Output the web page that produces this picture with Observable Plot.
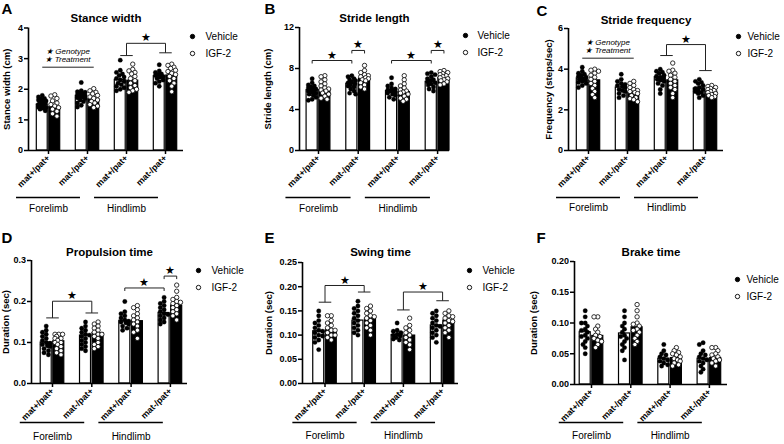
<!DOCTYPE html>
<html><head><meta charset="utf-8">
<script src="https://cdn.jsdelivr.net/npm/d3@7"></script>
<script src="https://cdn.jsdelivr.net/npm/@observablehq/plot@0.6"></script>
<style>
body{margin:0;background:#fff;}
#fig{position:relative;width:784px;height:444px;overflow:hidden;background:#fff;}
#fig svg{position:absolute;overflow:visible;}
</style></head><body><div id="fig"></div>
<script>
// ---------- data ----------
const groups = ["mat+/pat+", "mat-/pat+", "mat+/pat+", "mat-/pat+"];
const limbs = ["Forelimb", "Hindlimb"];
const treatments = ["Vehicle", "IGF-2"];

// A: Stance width (cm)
const stanceVehMean = [1.50, 1.78, 2.30, 2.42];
const stanceIgfMean = [1.42, 1.67, 2.28, 2.45];
const stanceVeh = [
  [1.80,1.75,1.70,1.68,1.65,1.62,1.60,1.58,1.55,1.52,1.50,1.48,1.45,1.42,1.40,1.38,1.35,1.30],
  [2.22,1.95,1.92,1.90,1.88,1.85,1.82,1.80,1.78,1.75,1.72,1.70,1.65,1.60,1.55,1.48,1.42],
  [2.95,2.62,2.55,2.50,2.45,2.40,2.35,2.30,2.25,2.20,2.15,2.10,2.05,2.00,1.95],
  [2.80,2.60,2.55,2.50,2.48,2.45,2.42,2.40,2.35,2.30,2.25,2.20,2.10]];
const stanceIgf = [
  [1.82,1.78,1.70,1.62,1.55,1.50,1.45,1.40,1.35,1.28,1.20,1.12],
  [2.02,1.95,1.90,1.85,1.80,1.75,1.70,1.65,1.60,1.55,1.50,1.45,1.40],
  [2.82,2.65,2.60,2.55,2.50,2.42,2.35,2.28,2.20,2.12,2.05,2.00,1.95,1.90],
  [2.82,2.78,2.72,2.68,2.62,2.58,2.52,2.48,2.42,2.35,2.28,2.20,2.10,1.92]];
const stanceTicks = [0, 1, 2, 3, 4];
const stanceSig = [{kind: "groups", a: 2, b: 3, top: 3.50, dropA: 3.10, dropB: 3.19}];
const stanceNote = {a: 0, b: 1, y: 2.72, lines: ["★ Genotype", "★ Treatment"]};

// B: Stride length (cm)
const strideVehMean = [5.9, 6.5, 5.8, 6.7];
const strideIgfMean = [5.9, 7.0, 5.7, 7.1];
const strideVeh = [
  [7.0,6.6,6.4,6.3,6.2,6.1,6.0,5.95,5.9,5.85,5.8,5.7,5.6,5.5,5.4,5.2,5.0,4.9],
  [7.3,7.2,7.0,6.9,6.8,6.7,6.6,6.5,6.4,6.3,6.2,6.0,5.8,5.6,5.5],
  [7.1,6.5,6.3,6.1,6.0,5.9,5.85,5.8,5.7,5.6,5.5,5.4,5.2,5.0],
  [7.6,7.5,7.4,7.2,7.0,6.9,6.8,6.7,6.6,6.5,6.4,6.2,6.0,5.8]];
const strideIgf = [
  [7.3,7.2,6.9,6.7,6.5,6.3,6.1,6.0,5.9,5.8,5.6,5.5,5.3,5.1,5.0],
  [8.3,7.8,7.6,7.4,7.3,7.2,7.1,7.0,6.9,6.8,6.6,6.4,6.2,6.0],
  [7.3,6.9,6.5,6.3,6.1,5.9,5.8,5.7,5.6,5.5,5.3,5.1,5.0,4.8],
  [7.8,7.7,7.6,7.5,7.4,7.3,7.2,7.1,7.0,6.9,6.8,6.7,6.5,6.4]];
const strideTicks = [0, 4, 8, 12];
const strideSig = [
  {kind: "bars", a: [0, 0], b: [1, 0], y: 8.78},
  {kind: "bars", a: [1, 0], b: [1, 1], y: 9.76},
  {kind: "bars", a: [2, 0], b: [3, 0], y: 8.78},
  {kind: "bars", a: [3, 0], b: [3, 1], y: 9.76}];

// C: Stride frequency (steps/sec)
const freqVehMean = [3.55, 3.10, 3.60, 3.05];
const freqIgfMean = [3.45, 2.85, 3.45, 2.90];
const freqVeh = [
  [4.1,3.9,3.8,3.75,3.7,3.65,3.6,3.55,3.5,3.45,3.4,3.35,3.3,3.2,3.1],
  [3.75,3.5,3.4,3.3,3.25,3.2,3.15,3.1,3.0,2.95,2.9,2.8,2.7,2.6],
  [4.0,3.9,3.85,3.8,3.7,3.65,3.6,3.55,3.5,3.45,3.4,3.3,3.2,3.0,2.8],
  [3.5,3.4,3.35,3.3,3.2,3.1,3.05,3.0,2.95,2.9,2.85,2.8,2.7,2.6]];
const freqIgf = [
  [4.0,3.95,3.9,3.8,3.7,3.6,3.5,3.4,3.3,3.2,3.05,2.9,2.75,2.6],
  [3.4,3.3,3.2,3.1,3.0,2.95,2.9,2.85,2.8,2.7,2.6,2.55,2.5,2.4],
  [4.3,3.95,3.9,3.8,3.7,3.6,3.5,3.4,3.3,3.2,3.1,3.0,2.8,2.6],
  [3.2,3.15,3.1,3.05,3.0,2.95,2.9,2.85,2.8,2.75,2.7,2.65,2.6]];
const freqTicks = [0, 2, 4, 6];
const freqSig = [{kind: "groups", a: 2, b: 3, top: 5.21, dropA: 4.67, dropB: 3.93}];
const freqNote = {a: 0, b: 1, y: 4.54, lines: ["★ Genotype", "★ Treatment"]};

// D: Propulsion time (sec)
const propVehMean = [0.100, 0.117, 0.153, 0.172];
const propIgfMean = [0.103, 0.123, 0.152, 0.190];
const propVeh = [
  [0.14,0.13,0.125,0.12,0.115,0.11,0.105,0.10,0.098,0.095,0.092,0.09,0.085,0.08,0.075,0.07],
  [0.15,0.14,0.135,0.13,0.125,0.12,0.118,0.115,0.11,0.105,0.10,0.095,0.09,0.085,0.08],
  [0.20,0.175,0.17,0.165,0.16,0.155,0.152,0.15,0.148,0.145,0.14,0.135,0.13],
  [0.21,0.20,0.195,0.19,0.185,0.18,0.175,0.17,0.168,0.165,0.16,0.155,0.15,0.145]];
const propIgf = [
  [0.12,0.12,0.12,0.115,0.11,0.11,0.105,0.10,0.10,0.095,0.09,0.085,0.08,0.075,0.07],
  [0.15,0.145,0.14,0.135,0.13,0.125,0.12,0.12,0.115,0.11,0.10,0.095,0.09,0.085],
  [0.19,0.185,0.18,0.17,0.165,0.16,0.155,0.15,0.145,0.14,0.13,0.125,0.11],
  [0.24,0.225,0.21,0.205,0.20,0.198,0.195,0.19,0.185,0.18,0.175,0.17,0.165,0.155]];
const propTicks = [0, 0.1, 0.2, 0.3];
const propSig = [
  {kind: "groups", a: 0, b: 1, top: 0.2007, dropA: 0.160, dropB: 0.172},
  {kind: "bars", a: [2, 0], b: [3, 0], y: 0.233},
  {kind: "bars", a: [3, 0], b: [3, 1], y: 0.262}];

// E: Swing time (sec)
const swingVehMean = [0.108, 0.130, 0.100, 0.120];
const swingIgfMean = [0.110, 0.134, 0.099, 0.130];
const swingVeh = [
  [0.15,0.14,0.13,0.125,0.12,0.115,0.11,0.108,0.105,0.10,0.098,0.095,0.09,0.085,0.07],
  [0.17,0.16,0.155,0.15,0.145,0.14,0.135,0.13,0.125,0.12,0.115,0.11,0.105,0.10],
  [0.125,0.11,0.108,0.105,0.102,0.10,0.098,0.095,0.092,0.09],
  [0.15,0.145,0.14,0.135,0.13,0.125,0.12,0.118,0.115,0.11,0.105,0.10,0.095,0.085]];
const swingIgf = [
  [0.14,0.14,0.13,0.125,0.12,0.115,0.11,0.11,0.105,0.10,0.10,0.095,0.09],
  [0.16,0.155,0.15,0.145,0.14,0.138,0.135,0.13,0.125,0.12,0.115,0.11,0.10],
  [0.135,0.12,0.115,0.11,0.105,0.10,0.095,0.09,0.085,0.08,0.07],
  [0.15,0.145,0.14,0.138,0.135,0.13,0.128,0.125,0.12,0.115,0.11,0.105,0.095]];
const swingTicks = [0, 0.05, 0.10, 0.15, 0.20, 0.25];
const swingSig = [
  {kind: "groups", a: 0, b: 1, top: 0.2025, dropA: 0.168, dropB: 0.189},
  {kind: "groups", a: 2, b: 3, top: 0.189, dropA: 0.152, dropB: 0.171}];

// F: Brake time (sec)
const brakeVehMean = [0.085, 0.083, 0.042, 0.042];
const brakeIgfMean = [0.079, 0.093, 0.043, 0.043];
const brakeVeh = [
  [0.12,0.11,0.10,0.10,0.095,0.09,0.088,0.085,0.08,0.078,0.075,0.07,0.065,0.06,0.05],
  [0.12,0.11,0.10,0.095,0.09,0.085,0.08,0.078,0.075,0.07,0.065,0.06,0.055,0.04],
  [0.065,0.055,0.05,0.048,0.045,0.042,0.04,0.038,0.035,0.032,0.03],
  [0.068,0.065,0.055,0.05,0.048,0.045,0.042,0.04,0.038,0.035,0.03,0.025,0.02]];
const brakeIgf = [
  [0.11,0.11,0.095,0.09,0.085,0.08,0.078,0.075,0.072,0.07,0.065,0.06],
  [0.13,0.12,0.11,0.10,0.098,0.095,0.09,0.088,0.085,0.08,0.075,0.07,0.065],
  [0.06,0.055,0.052,0.05,0.048,0.045,0.042,0.04,0.038,0.035,0.032,0.03],
  [0.06,0.06,0.055,0.05,0.048,0.045,0.042,0.04,0.038,0.035,0.03]];
const brakeTicks = [0, 0.05, 0.10, 0.15, 0.20];
const brakeSig = [];

// ---------- panels ----------
const panels = [
  {letter: "A", title: "Stance width", ylab: "Stance width (cm)", veh: stanceVeh, igf: stanceIgf, vehMean: stanceVehMean, igfMean: stanceIgfMean, yMax: 4, ticks: stanceTicks, fmt: "d", sig: stanceSig, note: stanceNote,
   L: {ox: 0, oy: 0, W: 262, H: 222, axL: 28, axR: 183, c0: 48, step: 39, yT: 27.5, yB: 150, ylabDx: -22, letDx: -27, letDy: -24.5, titleDy: -9.5, legDot: 9, legText: 22, legDy: 8.5, lineDy: 47, textDy: 58}},
  {letter: "B", title: "Stride length", ylab: "Stride length (cm)", veh: strideVeh, igf: strideIgf, vehMean: strideVehMean, igfMean: strideIgfMean, yMax: 12, ticks: strideTicks, fmt: "d", sig: strideSig, note: null,
   L: {ox: 262, oy: 0, W: 262, H: 222, axL: 299, axR: 449, c0: 318, step: 39.7, yT: 27, yB: 150, ylabDx: -32, letDx: -35, letDy: -24, titleDy: -9, legDot: 16, legText: 28, legDy: 8, lineDy: 47, textDy: 58}},
  {letter: "C", title: "Stride frequency", ylab: "Frequency (steps/sec)", veh: freqVeh, igf: freqIgf, vehMean: freqVehMean, igfMean: freqIgfMean, yMax: 6, ticks: freqTicks, fmt: "d", sig: freqSig, note: freqNote,
   L: {ox: 524, oy: 0, W: 260, H: 222, axL: 568, axR: 723, c0: 588, step: 39, yT: 28, yB: 150, ylabDx: -20, letDx: -32, letDy: -23, titleDy: -8, legDot: 15, legText: 24, legDy: 8, lineDy: 47, textDy: 57}},
  {letter: "D", title: "Propulsion time", ylab: "Duration (sec)", veh: propVeh, igf: propIgf, vehMean: propVehMean, igfMean: propIgfMean, yMax: 0.3, ticks: propTicks, fmt: ".1f", sig: propSig, note: null,
   L: {ox: 0, oy: 222, W: 262, H: 222, axL: 31, axR: 187, c0: 52, step: 39.3, yT: 260, yB: 383, ylabDx: -26, letDx: -30, letDy: -28, titleDy: -8, legDot: 11, legText: 24, legDy: 10, lineDy: 39, textDy: 53}},
  {letter: "E", title: "Swing time", ylab: "Duration (sec)", veh: swingVeh, igf: swingIgf, vehMean: swingVehMean, igfMean: swingIgfMean, yMax: 0.25, ticks: swingTicks, fmt: ".2f", sig: swingSig, note: null,
   L: {ox: 262, oy: 222, W: 262, H: 222, axL: 302, axR: 458, c0: 324.5, step: 39.2, yT: 262, yB: 383, ylabDx: -34, letDx: -38, letDy: -30, titleDy: -10, legDot: 11, legText: 24, legDy: 8, lineDy: 39, textDy: 52}},
  {letter: "F", title: "Brake time", ylab: "Duration (sec)", veh: brakeVeh, igf: brakeIgf, vehMean: brakeVehMean, igfMean: brakeIgfMean, yMax: 0.2, ticks: brakeTicks, fmt: ".2f", sig: brakeSig, note: null,
   L: {ox: 524, oy: 222, W: 260, H: 222, axL: 574, axR: 727, c0: 591, step: 39.3, yT: 261, yB: 384, ylabDx: -41, letDx: -38, letDy: -29, titleDy: -9, legDot: 10, legText: 19, legDy: 18, lineDy: 38, textDy: 51}}
];

const FONT = "'Liberation Sans', Arial, sans-serif";
const R = 2.2;
const barOff = 0.16; // bar centre offset from group tick (in group units)

function dodgeOffsets(vals, ppu, r) {
  const items = vals.map((v, i) => ({i, py: -v * ppu})).sort((a, b) => a.py - b.py);
  const cands = [0, -2.2, 2.2, -3.8, 3.8, -1.1, 1.1, -3, 3];
  const placed = [], off = new Array(vals.length);
  for (const it of items) {
    let best = 0, bestD = -1;
    for (const c of cands) {
      let d = Infinity;
      for (const p of placed) d = Math.min(d, Math.hypot(p.x - c, p.y - it.py));
      if (d >= 1.7 * r) { best = c; bestD = d; break; }
      if (d > bestD) { bestD = d; best = c; }
    }
    placed.push({x: best, y: it.py});
    off[it.i] = best;
  }
  return off;
}

const fig = document.getElementById("fig");

for (const p of panels) {
  const L = p.L;
  const ppu = (L.yB - L.yT) / p.yMax;
  const xDom = [(L.axL - L.c0) / L.step, (L.axR - L.c0) / L.step];
  const bc = (g, t) => g + (t ? barOff : -barOff);

  const bars = [];
  groups.forEach((g, i) => {
    bars.push({x1: i - 0.30, x2: i - 0.02, mean: p.vehMean[i], t: 0});
    bars.push({x1: i + 0.02, x2: i + 0.30, mean: p.igfMean[i], t: 1});
  });
  const pts = [[], []];
  [p.veh, p.igf].forEach((series, t) => {
    series.forEach((vals, g) => {
      const off = dodgeOffsets(vals, ppu, R);
      vals.forEach((v, k) => pts[t].push({x: bc(g, t) + off[k] / L.step, v}));
    });
  });

  // significance brackets
  const segs = [], stars = [];
  const tick = 3 / ppu;
  for (const s of p.sig) {
    if (s.kind === "bars") {
      const xa = bc(s.a[0], s.a[1]), xb = bc(s.b[0], s.b[1]);
      segs.push({x1: xa, y1: s.y, x2: xb, y2: s.y},
                {x1: xa, y1: s.y, x2: xa, y2: s.y - tick},
                {x1: xb, y1: s.y, x2: xb, y2: s.y - tick});
      stars.push({x: (xa + xb) / 2, y: s.y});
    } else {
      segs.push({x1: s.a, y1: s.top, x2: s.b, y2: s.top},
                {x1: s.a, y1: s.top, x2: s.a, y2: s.dropA},
                {x1: s.b, y1: s.top, x2: s.b, y2: s.dropB},
                {x1: bc(s.a, 0), y1: s.dropA, x2: bc(s.a, 1), y2: s.dropA},
                {x1: bc(s.b, 0), y1: s.dropB, x2: bc(s.b, 1), y2: s.dropB});
      stars.push({x: (s.a + s.b) / 2, y: s.top});
    }
  }
  const noteMarks = [];
  if (p.note) {
    const n = p.note;
    const xa = bc(n.a, 0), xb = bc(n.b, 1), cx = (xa + xb) / 2;
    segs.push({x1: xa, y1: n.y, x2: xb, y2: n.y});
    n.lines.forEach((line, i) => {
      noteMarks.push(Plot.text([line], {x: cx, y: n.y, dy: -16 + i * 7.8, fontSize: 8, fontStyle: "italic", fill: "black", lineAnchor: "middle"}));
    });
  }

  const limbData = limbs.map((l, i) => ({label: l, c: 2 * i}));

  const legendMarks = [];
  treatments.forEach((t, i) => {
    legendMarks.push(Plot.dot([t], {frameAnchor: "top-right", dx: L.legDot, dy: L.legDy + i * 17, r: R, fill: i ? "white" : "black", stroke: "black", strokeWidth: 0.9}));
    legendMarks.push(Plot.text([t], {frameAnchor: "top-right", dx: L.legText, dy: L.legDy + i * 17, textAnchor: "start", lineAnchor: "middle", fontSize: 10, fill: "black"}));
  });

  const chart = Plot.plot({
    width: L.W, height: L.H,
    marginLeft: L.axL - L.ox, marginRight: L.ox + L.W - L.axR,
    marginTop: L.yT - L.oy, marginBottom: L.oy + L.H - L.yB,
    x: {domain: xDom},
    y: {domain: [0, p.yMax]},
    style: {fontFamily: FONT, fontSize: "9px", color: "black", background: "transparent", overflow: "visible"},
    marks: [
      Plot.rect(bars, {x1: "x1", x2: "x2", y1: 0, y2: "mean", fill: d => d.t ? "black" : "white", stroke: "black", strokeWidth: 1.2}),
      Plot.dot(pts[0], {x: "x", y: "v", r: R, fill: "black", stroke: "black", strokeWidth: 0.3}),
      Plot.dot(pts[1], {x: "x", y: "v", r: R, fill: "white", stroke: "black", strokeWidth: 0.8}),
      Plot.link(segs, {x1: "x1", y1: "y1", x2: "x2", y2: "y2", stroke: "#222", strokeWidth: 1}),
      Plot.text(stars, {x: "x", y: "y", text: () => "★", dy: -5.5, fontSize: 11, fill: "black", lineAnchor: "middle"}),
      ...noteMarks,
      Plot.ruleX([xDom[0]], {stroke: "black", strokeWidth: 1.6}),
      Plot.ruleY([0], {stroke: "black", strokeWidth: 1.6}),
      Plot.axisY({ticks: p.ticks, tickFormat: d3.format(p.fmt), tickSize: 4, tickPadding: 1.5, strokeWidth: 1.5, fontWeight: "bold", fontSize: 9, label: null}),
      Plot.axisX({ticks: d3.range(groups.length), tickFormat: i => groups[i], tickRotate: -45, tickSize: 4, tickPadding: 2, strokeWidth: 1.5, fontWeight: "bold", fontSize: 8.8, label: null}),
      Plot.ruleY(limbData, {y: 0, x1: d => d.c - 0.82, x2: d => d.c + 0.82, dy: L.lineDy, stroke: "black", strokeWidth: 1.4}),
      Plot.text(limbData, {x: "c", y: 0, text: "label", dy: L.textDy, fontSize: 10, fill: "black", lineAnchor: "middle"}),
      Plot.text([p.ylab], {frameAnchor: "left", rotate: -90, dx: L.ylabDx, fontWeight: "bold", fontSize: 9.5, fill: "black", textAnchor: "middle", lineAnchor: "middle"}),
      Plot.text([p.title], {frameAnchor: "top", dy: L.titleDy, fontWeight: "bold", fontSize: 11.5, fill: "black", lineAnchor: "middle"}),
      Plot.text([p.letter], {frameAnchor: "top-left", dx: L.letDx, dy: L.letDy, fontWeight: "bold", fontSize: 15, fill: "black", textAnchor: "start", lineAnchor: "top"}),
      ...legendMarks
    ]
  });
  chart.style.left = L.ox + "px";
  chart.style.top = L.oy + "px";
  fig.appendChild(chart);
}
</script></body></html>
